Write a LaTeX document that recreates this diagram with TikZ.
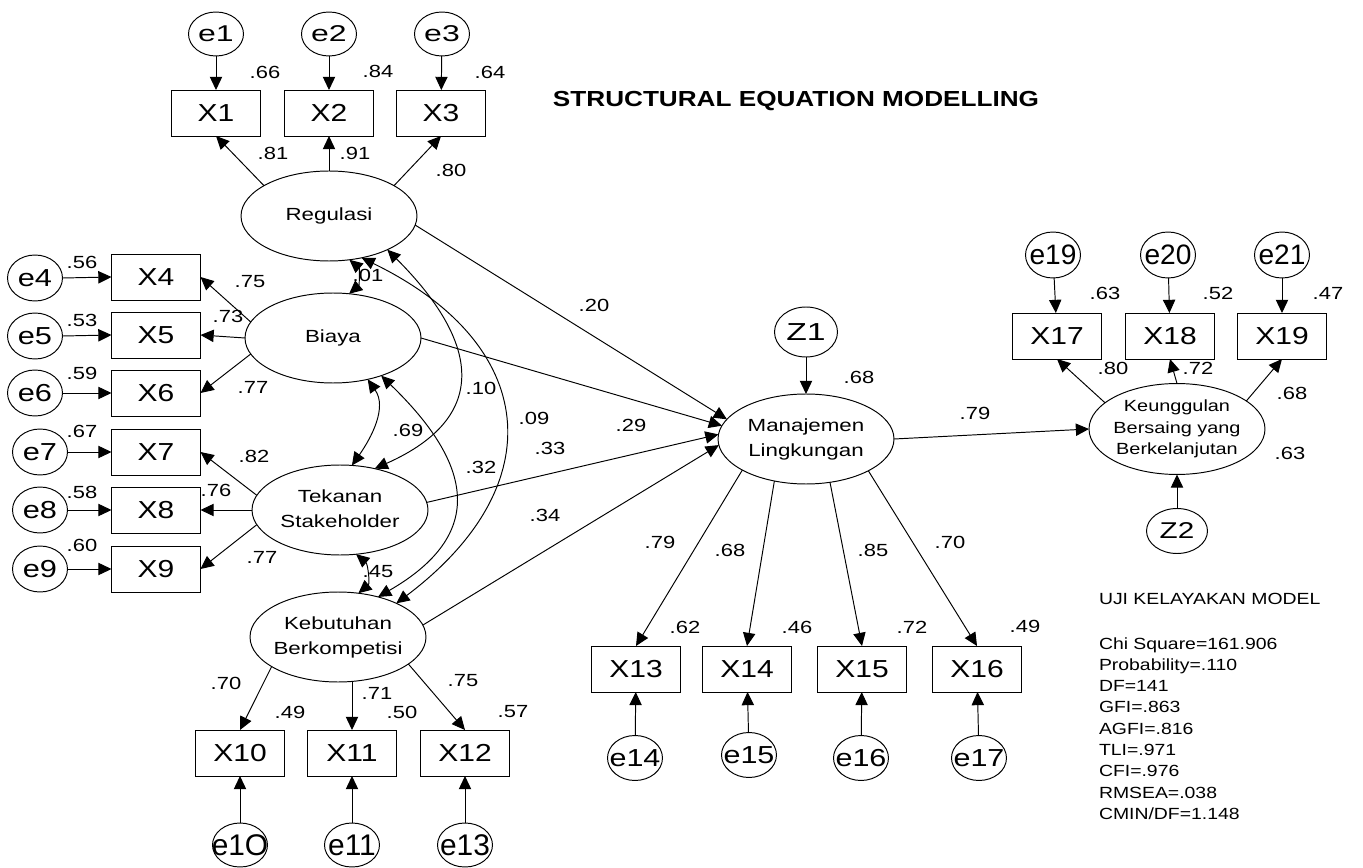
\documentclass[tikz,border=0pt]{standalone}
\usepackage{fontspec}
\setmainfont{Liberation Sans}
\usepackage{graphicx}
\usetikzlibrary{shapes.geometric,arrows.meta}
\newcommand{\hs}[2][1.22]{\scalebox{#1}[1]{#2}}
\newcommand{\zw}[1]{\makebox[0pt]{#1}}
\newcommand{\twoline}[2]{\begin{tabular}{@{}c@{}}#1\\#2\end{tabular}}
\newcommand{\threeline}[3]{\begin{tabular}{@{}c@{}}#1\\#2\\#3\end{tabular}}
\begin{document}
\begin{tikzpicture}[x={(0.02cm,0)}, y={(0,-0.02cm)},
  every node/.style={inner sep=0pt, outer sep=0pt},
  lat/.style={draw, ellipse, minimum width=3.52cm, minimum height=1.8cm, line width=0.55pt, font=\fontsize{10}{14.2}\selectfont},
  err/.style={draw, ellipse, minimum width=1.1cm, minimum height=0.88cm, line width=0.55pt},
  obs/.style={draw, rectangle, minimum width=1.78cm, minimum height=0.92cm, line width=0.55pt, font=\fontsize{14}{16}\selectfont},
  lab/.style={font=\fontsize{10}{12}\selectfont},
  stat/.style={font=\fontsize{9.2}{12}\selectfont, anchor=base west},
  arr/.style={-{Triangle[length=7.5pt,width=7pt]}, line width=0.55pt},
  cov/.style={{Triangle[length=7.5pt,width=7pt]}-{Triangle[length=7.5pt,width=7pt]}, line width=0.55pt}]
\useasboundingbox (0,0) rectangle (1363,868);

% ---------- latent variables
\node[lat] (reg) at (329,216) {\zw{\hs[1.27]{Regulasi}}};
\node[lat] (bia) at (333,338) {\zw{\hs[1.27]{Biaya}}};
\node[lat] (tek) at (340,510) {\zw{\hs[1.27]{\twoline{Tekanan}{Stakeholder}}}};
\node[lat] (keb) at (338,637) {\zw{\hs[1.27]{\twoline{Kebutuhan}{Berkompetisi}}}};
\node[lat] (man) at (806,439) {\zw{\hs[1.27]{\twoline{Manajemen}{Lingkungan}}}};
\node[lat, font=\fontsize{9.2}{12.2}\selectfont] (keu) at (1177,429) {\zw{\hs[1.23]{\threeline{Keunggulan}{Bersaing yang}{Berkelanjutan}}}};

% ---------- observed variables
\node[obs] (X1) at (216,113) {\hs{X1}};
\node[obs] (X2) at (329,113) {\hs{X2}};
\node[obs] (X3) at (441,113) {\hs{X3}};
\node[obs] (X4) at (156,277) {\hs{X4}};
\node[obs] (X5) at (156,335) {\hs{X5}};
\node[obs] (X6) at (156,393) {\hs{X6}};
\node[obs] (X7) at (156,452) {\hs{X7}};
\node[obs] (X8) at (156,510) {\hs{X8}};
\node[obs] (X9) at (156,569) {\hs{X9}};
\node[obs] (X10) at (240,753) {\hs{X10}};
\node[obs] (X11) at (352,753) {\hs{X11}};
\node[obs] (X12) at (465,753) {\hs{X12}};
\node[obs] (X13) at (636,669) {\hs{X13}};
\node[obs] (X14) at (747,669) {\hs{X14}};
\node[obs] (X15) at (862,669) {\hs{X15}};
\node[obs] (X16) at (977,669) {\hs{X16}};
\node[obs] (X17) at (1057,336) {\hs{X17}};
\node[obs] (X18) at (1170,336) {\hs{X18}};
\node[obs] (X19) at (1282,336) {\hs{X19}};

% ---------- error terms
\begin{scope}[every node/.append style={font=\fontsize{13}{15}\selectfont}]
\node[err] (e1) at (216,34) {\zw{\hs[1.4]{e1}}};
\node[err] (e2) at (329,34) {\zw{\hs[1.4]{e2}}};
\node[err] (e3) at (442,34) {\zw{\hs[1.4]{e3}}};
\end{scope}
\begin{scope}[every node/.append style={font=\fontsize{14}{16}\selectfont}]
\node[err, minimum height=0.92cm] (e4) at (35,278) {\zw{\hs[1.25]{e4}}};
\node[err, minimum height=0.92cm] (e5) at (35,336) {\zw{\hs[1.25]{e5}}};
\node[err, minimum height=0.92cm] (e6) at (35,393) {\zw{\hs[1.25]{e6}}};
\node[err, minimum height=0.92cm] (e7) at (40,452) {\zw{\hs[1.25]{e7}}};
\node[err, minimum height=0.92cm] (e8) at (40,510) {\zw{\hs[1.25]{e8}}};
\node[err, minimum height=0.92cm] (e9) at (40,569) {\zw{\hs[1.25]{e9}}};
\node[err, minimum height=0.9cm] (e14) at (635,758) {\zw{\hs[1.24]{e14}}};
\node[err, minimum height=0.9cm] (e15) at (749,755) {\zw{\hs[1.24]{e15}}};
\node[err, minimum height=0.9cm] (e16) at (861,758) {\zw{\hs[1.24]{e16}}};
\node[err, minimum height=0.9cm] (e17) at (979,758) {\zw{\hs[1.24]{e17}}};
\node[err, minimum width=1.26cm, minimum height=1.0cm] (Z1) at (806,332) {\zw{\hs[1.37]{Z1}}};
\end{scope}
\begin{scope}[every node/.append style={font=\fontsize{17}{19}\selectfont}]
\node[err, minimum height=0.88cm] (e10) at (240,845) {\zw{e1O}};
\node[err, minimum height=0.88cm] (e11) at (352,845) {\zw{e11}};
\node[err, minimum height=0.88cm] (e13) at (465,845) {\zw{e13}};
\end{scope}
\begin{scope}[every node/.append style={font=\fontsize{16}{18}\selectfont}]
\node[err, minimum height=0.92cm] (e19) at (1053,255) {\zw{e19}};
\node[err, minimum height=0.92cm] (e20) at (1168,255) {\zw{e20}};
\node[err, minimum height=0.92cm] (e21) at (1282,255) {\zw{e21}};
\end{scope}
\node[err, minimum width=1.22cm, minimum height=0.9cm, font=\fontsize{13}{15}\selectfont] (Z2) at (1177,531) {\zw{\hs[1.3]{Z2}}};

% ---------- error arrows
\foreach \e/\x in {e1/X1,e2/X2,e3/X3,e10/X10,e11/X11,e13/X12,e14/X13,e15/X14,e16/X15,e17/X16,e19/X17,e20/X18,e21/X19}
  \draw[arr] (\e) -- (\x);
\foreach \e/\x in {e4/X4,e5/X5,e6/X6,e7/X7,e8/X8,e9/X9}
  \draw[arr] (\e.east) -- (\x.west);
\draw[arr] (Z1) -- (man);
\draw[arr] (Z2) -- (keu);

% ---------- loadings
\draw[arr] (reg.155) -- (X1.south);
\draw[arr] (reg.north) -- (X2.south);
\draw[arr] (reg.25) -- (X3.south);
\draw[arr] (bia.169) -- (X4.east);
\draw[arr] (bia.west) -- (X5.east);
\draw[arr] (bia.191) -- (X6.east);
\draw[arr] (tek.170) -- (X7.east);
\draw[arr] (tek.west) -- (X8.east);
\draw[arr] (tek.190) -- (X9.east);
\draw[arr] (keb.204) -- (X10.north);
\draw[arr] (keb.south -| X11.north) -- (X11.north);
\draw[arr] (keb.-21) -- (X12.north);
\draw[arr] (man.206) -- (X13.north);
\draw[arr] (man.233) -- (X14.north);
\draw[arr] (man.-61) -- (X15.north);
\draw[arr] (man.-27) -- (X16.north);
\draw[arr] (keu.160) -- (X17.south);
\draw[arr] (keu.north) -- (X18.south);
\draw[arr] (keu.22) -- (X19.south);

% ---------- structural paths
\draw[arr] (reg.-6) -- (man.166);
\draw[arr] (bia.east) -- (man.171);
\draw[arr] (tek.5) -- (man.177);
\draw[arr] (keb.8) -- (man.184);
\draw[arr] (man.east) -- (keu.west);

% ---------- covariances
\draw[cov] (reg.-65) to[out=-40, in=40] (bia.70);
\draw[cov] (bia.-50) to[out=-55, in=55] (tek.75);
\draw[cov] (tek.-70) to[out=-40, in=40] (keb.65);
\draw[cov] (reg.-30) to[out=-45, in=24, looseness=1.5] (tek.50);
\draw[cov] (reg.-52) to[out=-26, in=37, looseness=1.45] (keb.30);
\draw[cov] (bia.-38) to[out=-44, in=30, looseness=1.46] (keb.45);

% ---------- coefficient labels
\foreach \n/\p/\t in {
  a1/{265,72}/.66, a2/{378,71}/.84, a3/{490,72}/.64,
  a4/{273,153}/.81, a5/{355,153}/.91, a6/{451,170}/.80,
  a7/{82,262}/.56, a8/{82,320}/.53, a9/{82,373}/.59, a10/{82,431}/.67, a11/{82,492}/.58, a12/{82,545}/.60,
  a13/{250,282}/.75, a14/{228,316}/.73, a15/{253,387}/.77, a16/{254,456}/.82, a17/{216,490}/.76, a18/{262,557}/.77,
  a19/{368,275}/.01, a20/{408,430}/.69, a21/{378,572}/.45, a22/{481,388}/.10, a23/{534,418}/.09, a24/{481,467}/.32,
  a25/{594,305}/.20, a26/{631,425}/.29, a27/{550,448}/.33, a28/{545,515}/.34,
  a29/{859,377}/.68,
  a30/{660,542}/.79, a31/{730,550}/.68, a32/{873,550}/.85, a33/{950,542}/.70,
  a34/{685,627}/.62, a35/{797,627}/.46, a36/{912,627}/.72, a37/{1025,626}/.49,
  a38/{226,683}/.70, a39/{290,712}/.49, a40/{377,693}/.71, a41/{402,712}/.50, a42/{463,681}/.75, a43/{513,712}/.57,
  a44/{975,413}/.79,
  a45/{1105,293}/.63, a46/{1218,293}/.52, a47/{1328,293}/.47, a48/{1113,368}/.80, a49/{1198,368}/.72, a50/{1292,393}/.68, a51/{1290,453}/.63}
  \node[lab] (\n) at (\p) {\hs[1.25]{\t}};

% ---------- title and fit statistics
\node[font=\fontsize{12.4}{14}\selectfont\bfseries] (title) at (796,101) {\hs[1.2]{STRUCTURAL EQUATION MODELLING}};
\node[stat] (uji) at (1099,604) {\hs[1.2]{UJI KELAYAKAN MODEL}};
\foreach \t [count=\i] in {Chi Square=161.906, Probability=.110, DF=141, GFI=.863, AGFI=.816, TLI=.971, CFI=.976, RMSEA=.038, CMIN/DF=1.148}
  \node[stat] (s\i) at (1099,{649+21.3*(\i-1)}) {\hs[1.2]{\t}};
\end{tikzpicture}
\end{document}
